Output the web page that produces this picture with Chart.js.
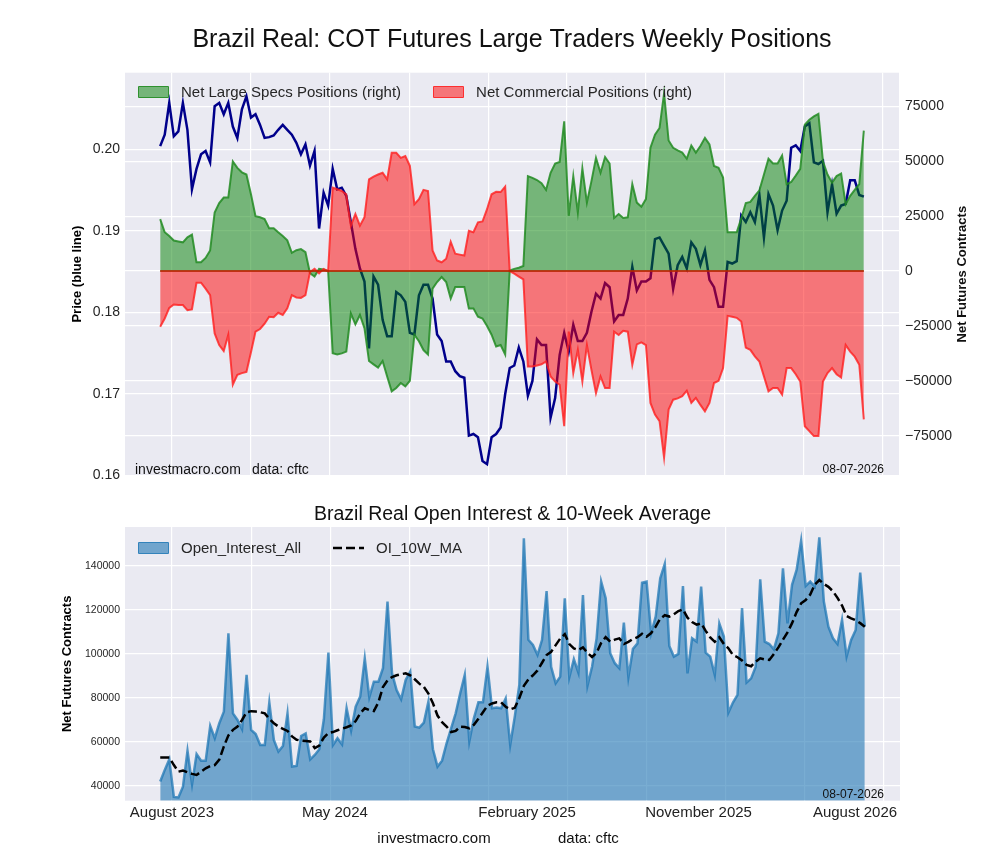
<!DOCTYPE html>
<html>
<head>
<meta charset="utf-8">
<title>Brazil Real: COT Futures Large Traders Weekly Positions</title>
<script src="https://cdn.jsdelivr.net/npm/chart.js@4.4.1/dist/chart.umd.min.js"></script>
<style>
  body { margin: 0; background: #fff; }
  #wrap { position: relative; width: 1000px; height: 860px; }
  canvas { position: absolute; left: 0; }
  .legend { position: absolute; left: 138px; font: 15px 'Liberation Sans', Arial, sans-serif; color: #262626; white-space: nowrap; line-height: 17px; }
  .legend .item { display: inline-flex; align-items: center; margin-right: 32px; }
  .legend .box { display: inline-block; width: 29px; height: 10px; border: 1px solid; border-radius: 1px; margin-right: 12px; }
  .legend svg { margin-right: 12px; }
</style>
</head>
<body>
<div id="wrap">
  <canvas id="cot" width="1000" height="490" style="top:0"></canvas>
  <canvas id="oi" width="1000" height="370" style="top:490px"></canvas>
  <div id="cotLegend" class="legend" style="top:83px"></div>
  <div id="oiLegend" class="legend" style="top:539px"></div>
</div>
<script>
// weekly report dates start here, one value per week in every series below
const FIRST_WEEK = '2023-07-14'

const priceLine = [
  0.2004, 0.2018, 0.2057, 0.2016, 0.2022, 0.2057, 0.2024, 0.1951, 0.1976, 0.1994,
  0.1998, 0.1984, 0.2053, 0.2057, 0.2043, 0.2057, 0.2028, 0.2014, 0.2049, 0.2065,
  0.2039, 0.2043, 0.2030, 0.2014, 0.2015, 0.2017, 0.2024, 0.2030, 0.2024, 0.2018,
  0.2008, 0.1994, 0.2006, 0.1980, 0.1998, 0.1903, 0.1947, 0.1931, 0.1976, 0.1951,
  0.1953, 0.1943, 0.1911, 0.1878, 0.1854, 0.1838, 0.1756, 0.1844, 0.1834, 0.1791,
  0.1771, 0.1771, 0.1825, 0.1821, 0.1813, 0.1775, 0.1773, 0.1821, 0.1834, 0.1834,
  0.1817, 0.1773, 0.1765, 0.1740, 0.1740, 0.1728, 0.1722, 0.1720, 0.1649, 0.1651,
  0.1647, 0.1618, 0.1614, 0.1647, 0.1651,
  0.1659, 0.1700, 0.1732, 0.1735, 0.1757, 0.1740, 0.1698, 0.1716, 0.1767, 0.1760,
  0.1760, 0.1671, 0.1695, 0.1748, 0.1775, 0.1752, 0.1785, 0.1765, 0.1765, 0.1775,
  0.1801, 0.1823, 0.1817, 0.1836, 0.1831, 0.1789, 0.1797, 0.1797, 0.1817, 0.1856,
  0.1827, 0.1838, 0.1838, 0.1842, 0.1890, 0.1892, 0.1882, 0.1872, 0.1829, 0.1858,
  0.1868, 0.1854, 0.1886, 0.1878, 0.1858, 0.1876, 0.1840, 0.1831, 0.1807, 0.1807,
  0.1862, 0.1860, 0.1863, 0.1919, 0.1911, 0.1923, 0.1911, 0.1944, 0.1892, 0.1945,
  0.1931, 0.1901, 0.1925, 0.1937, 0.2002, 0.2005, 0.1998, 0.2028, 0.2032, 0.1984,
  0.1982, 0.1986, 0.1923, 0.1957, 0.1921, 0.1931, 0.1933, 0.1962, 0.1962, 0.1944,
  0.1942,
]

const netLargeSpecs = [
  23700, 17700, 16000, 13900, 13500, 13100, 15400, 16600, 4000, 4000,
  6000, 9400, 26700, 31000, 33500, 33500, 50000, 47000, 45000, 44000,
  35000, 25000, 24500, 23700, 19500, 19500, 17700, 16000, 14000, 8300,
  9500, 10000, 8600, -1000, -2500, 1000, 700, 0, -37400, -38000,
  -37500, -36700, -19300, -24300, -20000, -26000, -41000, -42500, -44000, -41000,
  -48000, -54800, -53300, -51000, -52500, -50000, -29000, -32000, -36000, -38000,
  -8000, -5000, -2700, -5000, -12500, -7200, -7200, -7200, -17000, -17000,
  -20800, -21600, -25000, -29000, -34400,
  -33700, -38000, 300, 1000, 1500, 2300, 43300, 42500, 41500, 40000,
  37000, 44800, 49000, 49700, 68200, 25200, 43300, 26700, 46800, 31200,
  41000, 51600, 44800, 52000, 49000, 24200, 26000, 24200, 24500, 39600,
  31200, 29300, 32800, 56200, 62200, 65200, 81000, 59500, 56200, 55000,
  54000, 51200, 57200, 54000, 57000, 60700, 57700, 47900, 47100, 42600,
  17700, 17700, 17700, 24000, 31000, 31500, 34300, 36800, 44000, 51200,
  49000, 49000, 52700, 39600, 40600, 43500, 46600, 66700, 69000, 70500,
  71600, 50000, 44000, 40300, 43300, 44400, 30500, 34300, 37000, 39600,
  64000,
]

const netCommercial = [
  -25400, -21600, -16800, -15200, -15500, -15500, -17800, -17500, -5300, -5300,
  -8000, -11000, -28400, -33700, -36400, -29000, -51800, -47300, -46500, -46000,
  -37000, -27600, -26400, -24000, -20800, -21000, -19000, -20000, -17000, -11000,
  -12000, -12200, -11000, -500, 1000, -1000, 1000, 0, 38000, 37300,
  36500, 35000, 20700, 26000, 20700, 24500, 41800, 43000, 44000, 44800,
  41800, 53900, 53900, 51600, 52400, 48000, 30500, 32800, 37000, 36500,
  9400, 4800, 4000, 5600, 13400, 7900, 7500, 7100, 18400, 17700,
  22200, 22600, 28200, 35000, 36100,
  36000, 38500, 0, -1200, -2500, -3800, -43500, -43500, -43000, -42500,
  -41200, -48000, -50300, -51800, -70700, -27600, -46500, -35900, -50300, -33700,
  -45000, -55600, -48000, -53300, -53300, -27600, -29100, -27200, -27600, -42700,
  -33400, -32500, -33700, -60100, -65400, -68400, -85000, -63100, -58600, -58000,
  -57000, -54500, -60100, -57800, -61000, -63900, -60100, -51000, -50000, -44200,
  -20400, -20800, -21300, -23000, -34900, -35900, -38900, -41200, -48000, -54800,
  -53300, -53300, -56300, -44200, -44200, -47000, -50300, -70700, -72900, -75200,
  -75200, -50300, -46500, -44200, -47000, -48500, -33700, -36700, -39000, -42700,
  -67600,
]

const openInterest = [
  42000, 47300, 52100, 35000, 34800, 39700, 56000, 40800, 54500, 51500,
  51500, 67300, 61700, 68500, 73800, 109400, 73000, 70000, 65800, 90500,
  65500, 63600, 58600, 58600, 77900, 60900, 55600, 58200, 73000, 48800,
  49100, 62700, 63900, 52100, 54100, 56700, 70300, 100600, 58600, 61700,
  58900, 75300, 65200, 76100, 80600, 98000, 80300, 87400, 87400, 93500,
  123800, 91200, 83600, 79400, 88200, 92000, 67000, 66500, 68800, 78300,
  56700, 48800, 51500, 59400, 66200, 73000, 82100, 90500, 60200, 70800,
  78000, 78000, 94200, 75300, 75600,
  75300, 79800, 58600, 71500, 85900, 152600, 106400, 104100, 99500, 106400,
  128600, 94200, 86700, 89700, 125300, 89400, 97600, 91500, 126800, 85600,
  94200, 107100, 132900, 125300, 100300, 95800, 93500, 114200, 89400, 102300,
  104800, 132400, 132900, 109400, 117000, 134400, 140900, 103600, 98800, 100000,
  130900, 91200, 107100, 105600, 130600, 100600, 98800, 90500, 113900, 107900,
  73300, 77900, 81400, 120800, 87000, 88900, 94200, 133900, 105600, 104500,
  102100, 109400, 138900, 113900, 131400, 138200, 151500, 130900, 132900, 130600,
  153000, 123800, 112400, 107100, 104500, 115500, 98800, 106400, 110900, 137000,
  112400,
]

const oi10wAverage = [
  52900, 52900, 52900, 49500, 46500, 47000, 46200, 45500, 45000, 46500,
  48000, 49000, 49500, 52000, 58000, 63000, 65500, 67000, 70000, 73500,
  74000, 73800, 73500, 73000, 70500, 68500, 67000, 66000, 65000, 62500,
  61000, 60600, 60400, 60200, 57200, 58400, 62000, 64000, 64500, 65300,
  66000, 66700, 67500, 69500, 73000, 75300, 74500, 74000, 78000, 85000,
  88000, 89500, 90300, 90800, 91200, 90300, 88500, 86500, 85000, 82000,
  77600, 72000, 69000, 67000, 64500, 65000, 67000, 66800, 66200, 67800,
  70500, 73500, 76500, 77500, 78000,
  78000, 76000, 74800, 75500, 80000, 85500, 88500, 90300, 92500, 96000,
  99500, 101000, 104000, 107000, 109000, 104500, 102500, 101800, 103000, 100500,
  98600, 100500, 105000, 107600, 105600, 106500, 107100, 104500, 105500, 106800,
  107600, 109200, 107800, 109500, 112400, 116000, 117600, 117000, 118000, 119500,
  120300, 116500, 114500, 113300, 113900, 110500, 107500, 105500, 107600, 104500,
  102600, 99500, 98500, 97000, 95000, 94400, 96500, 98000, 97500, 97300,
  100000, 103000, 106500, 109800, 114000, 119000, 123000, 124500, 127000, 131500,
  133600, 131800, 130500, 128500, 125500, 122000, 117300, 116200, 115300, 114000,
  112400,
]

// vertical grid lines (every 4 months) and the labels of the lower x axis
const gridDates = ['2023-08-01', '2023-12-01', '2024-04-01', '2024-08-01', '2024-12-01',
  '2025-04-01', '2025-08-01', '2025-12-01', '2026-04-01', '2026-08-01']
const oiTickDates = ['2023-08-01', '2024-04-08', '2025-01-29', '2025-10-20', '2026-06-18']
const oiTickLabels = ['August 2023', 'May 2024', 'February 2025', 'November 2025', 'August 2026']

const priceTicks = [0.16, 0.17, 0.18, 0.19, 0.20]
const netTicks = [-75000, -50000, -25000, 0, 25000, 50000, 75000]
const oiTicks = [40000, 60000, 80000, 100000, 120000, 140000]

const DATA_DATE = '08-07-2026'
const FONT = "'Liberation Sans', Arial, sans-serif"
const BG = '#EAEAF2'

Chart.defaults.font.family = FONT
Chart.defaults.color = '#262626'

const DAY = 86400000
const dayOf = s => (Date.parse(s) - Date.parse(FIRST_WEEK)) / DAY
const weekDays = priceLine.map((_, i) => 7 * i)
const span = weekDays[weekDays.length - 1]
const xMin = -0.05 * span   // 5% margin each side, like the source plot
const xMax = span * 1.05
const points = vals => vals.map((v, i) => ({x: weekDays[i], y: v}))
const minus = v => v < 0 ? '\u2212' + Math.abs(v) : String(v)

// grey plot background
const plotBg = {
  id: 'plotBg',
  beforeDraw(chart) {
    const {ctx, chartArea: a} = chart
    ctx.save()
    ctx.fillStyle = BG
    ctx.fillRect(a.left, a.top, a.right - a.left, a.bottom - a.top)
    ctx.restore()
  }
}

// legend inside the plot, built from the datasets
const htmlLegend = {
  id: 'htmlLegend',
  afterInit(chart, args, opts) {
    const box = document.getElementById(opts.containerID)
    box.innerHTML = ''
    chart.data.datasets.filter(ds => !opts.skip.includes(ds.label)).forEach(ds => {
      const item = document.createElement('span')
      item.className = 'item'
      let swatch
      if (ds.fill) {
        swatch = document.createElement('span')
        swatch.className = 'box'
        swatch.style.background = ds.backgroundColor
        swatch.style.borderColor = ds.borderColor
      } else {
        swatch = document.createElementNS('http://www.w3.org/2000/svg', 'svg')
        swatch.setAttribute('width', 31)
        swatch.setAttribute('height', 12)
        swatch.innerHTML = `<line x1="0" y1="6" x2="31" y2="6" stroke="${ds.borderColor}"
          stroke-width="${ds.borderWidth}" stroke-dasharray="${(ds.borderDash || []).join(' ')}"/>`
      }
      item.appendChild(swatch)
      item.appendChild(document.createTextNode(ds.label))
      box.appendChild(item)
    })
  }
}

const gridX = {
  type: 'linear', min: xMin, max: xMax,
  afterBuildTicks: s => { s.ticks = gridDates.map(d => ({value: dayOf(d)})) },
  ticks: {display: false},
  grid: {color: '#fff', lineWidth: 1.2, drawTicks: false},
  border: {display: false},
  afterFit: s => { s.height = 0 },
}

const cotNotes = {
  id: 'cotNotes',
  afterDatasetsDraw(chart) {
    const {ctx, scales: {x, y2}} = chart
    const y0 = y2.getPixelForValue(0)
    const x0 = x.getPixelForValue(weekDays[0])
    const x1 = x.getPixelForValue(span)
    ctx.save()
    ctx.lineWidth = 2
    for (const c of ['rgba(0,128,0,0.6)', 'rgba(255,0,0,0.6)']) {
      ctx.strokeStyle = c
      ctx.beginPath()
      ctx.moveTo(x0, y0)
      ctx.lineTo(x1, y0)
      ctx.stroke()
    }
    ctx.restore()
  },
  afterDraw(chart) {
    const {ctx, chartArea: a} = chart
    ctx.save()
    ctx.fillStyle = '#111'
    ctx.font = '14px ' + FONT
    ctx.fillText('investmacro.com', a.left + 10, a.bottom - 2)
    ctx.fillText('data: cftc', a.left + 127, a.bottom - 2)
    ctx.font = '12px ' + FONT
    ctx.textAlign = 'right'
    ctx.fillText(DATA_DATE, a.right - 15, a.bottom - 3)
    ctx.translate(962, (a.top + a.bottom) / 2)
    ctx.rotate(-Math.PI / 2)
    ctx.textAlign = 'center'
    ctx.textBaseline = 'middle'
    ctx.font = 'bold 13px ' + FONT
    ctx.fillText('Net Futures Contracts', 0, 0)
    ctx.restore()
  }
}

const oiNotes = {
  id: 'oiNotes',
  afterDraw(chart) {
    const {ctx, chartArea: a} = chart
    ctx.save()
    ctx.fillStyle = '#111'
    ctx.font = '12px ' + FONT
    ctx.textAlign = 'right'
    ctx.fillText(DATA_DATE, a.right - 16, a.bottom - 3)
    ctx.font = '15px ' + FONT
    ctx.textBaseline = 'middle'
    ctx.textAlign = 'center'
    ctx.fillText('investmacro.com', 434, 349)
    ctx.textAlign = 'left'
    ctx.fillText('data: cftc', 558, 349)
    ctx.restore()
  }
}

new Chart(document.getElementById('cot'), {
  type: 'line',
  data: {
    datasets: [
      {
        label: 'Net Large Specs Positions (right)',
        data: points(netLargeSpecs),
        yAxisID: 'y2',
        borderColor: 'rgba(34,139,34,0.85)',
        backgroundColor: 'rgba(0,128,0,0.5)',
        borderWidth: 2,
        fill: 'origin',
        order: 2,
      },
      {
        label: 'Net Commercial Positions (right)',
        data: points(netCommercial),
        yAxisID: 'y2',
        borderColor: 'rgba(255,30,30,0.8)',
        backgroundColor: 'rgba(255,0,0,0.5)',
        borderWidth: 2,
        fill: 'origin',
        order: 1,
      },
      {
        label: 'Price (blue line)',
        data: points(priceLine),
        yAxisID: 'y',
        borderColor: '#00008b',
        borderWidth: 2.5,
        fill: false,
        order: 3,
      },
    ],
  },
  options: {
    responsive: false,
    animation: false,
    layout: {padding: {top: 0, left: 0, right: 0, bottom: 12}},
    elements: {point: {radius: 0}, line: {tension: 0}},
    plugins: {
      legend: {display: false},
      tooltip: {enabled: false},
      title: {
        display: true,
        text: 'Brazil Real: COT Futures Large Traders Weekly Positions',
        fullSize: false,
        color: '#111',
        font: {size: 25, weight: 'normal'},
        padding: {top: 25, bottom: 17.7},
      },
      htmlLegend: {containerID: 'cotLegend', skip: ['Price (blue line)']},
    },
    scales: {
      x: gridX,
      y: {
        position: 'left', min: 0.16, max: 0.2094,
        afterBuildTicks: s => { s.ticks = priceTicks.map(v => ({value: v})) },
        ticks: {font: {size: 14}, padding: 5, callback: v => v.toFixed(2)},
        grid: {color: '#fff', lineWidth: 1.2, drawTicks: false},
        border: {display: false},
        title: {display: true, text: 'Price (blue line)', color: '#000',
          font: {size: 13, weight: 'bold'}, padding: {top: 70, bottom: 0}},
        afterFit: s => { s.width = 125 },
      },
      y2: {
        position: 'right', min: -93200, max: 90400,
        afterBuildTicks: s => { s.ticks = netTicks.map(v => ({value: v})) },
        ticks: {font: {size: 14}, padding: 6, callback: minus},
        grid: {color: '#fff', lineWidth: 1.2, drawTicks: false},
        border: {display: false},
        afterFit: s => { s.width = 101 },
      },
    },
  },
  plugins: [plotBg, htmlLegend, cotNotes],
})

new Chart(document.getElementById('oi'), {
  type: 'line',
  data: {
    datasets: [
      {
        label: 'Open_Interest_All',
        data: points(openInterest),
        borderColor: 'rgba(31,119,180,0.75)',
        backgroundColor: 'rgba(31,119,180,0.6)',
        borderWidth: 2.5,
        fill: 'origin',
        order: 2,
      },
      {
        label: 'OI_10W_MA',
        data: points(oi10wAverage),
        borderColor: '#000',
        borderDash: [9, 4],
        borderWidth: 2.5,
        fill: false,
        order: 1,
      },
    ],
  },
  options: {
    responsive: false,
    animation: false,
    layout: {padding: {top: 0, left: 0, right: 100, bottom: 10}},
    elements: {point: {radius: 0}, line: {tension: 0}},
    plugins: {
      legend: {display: false},
      tooltip: {enabled: false},
      title: {
        display: true,
        text: 'Brazil Real Open Interest & 10-Week Average',
        fullSize: false,
        color: '#111',
        font: {size: 19.5, weight: 'normal'},
        padding: {top: 13.3, bottom: 0.3},
      },
      htmlLegend: {containerID: 'oiLegend', skip: []},
    },
    scales: {
      x: gridX,
      x2: {
        type: 'linear', position: 'bottom', min: xMin, max: xMax,
        afterBuildTicks: s => { s.ticks = oiTickDates.map(d => ({value: dayOf(d)})) },
        ticks: {font: {size: 15}, color: '#222', padding: -5, autoSkip: false, maxRotation: 0,
          callback: (v, i) => oiTickLabels[i]},
        grid: {display: false},
        border: {display: false},
        afterFit: s => { s.height = 49.3 },
      },
      y: {
        position: 'left', min: 33300, max: 157700,
        afterBuildTicks: s => { s.ticks = oiTicks.map(v => ({value: v})) },
        ticks: {font: {size: 10.5}, padding: 5, callback: v => String(v)},
        grid: {color: '#fff', lineWidth: 1.2, drawTicks: false},
        border: {display: false},
        title: {display: true, text: 'Net Futures Contracts', color: '#000',
          font: {size: 13, weight: 'bold'}, padding: {top: 60, bottom: 0}},
        afterFit: s => { s.width = 125 },
      },
    },
  },
  plugins: [plotBg, htmlLegend, oiNotes],
})
</script>
</body>
</html>
